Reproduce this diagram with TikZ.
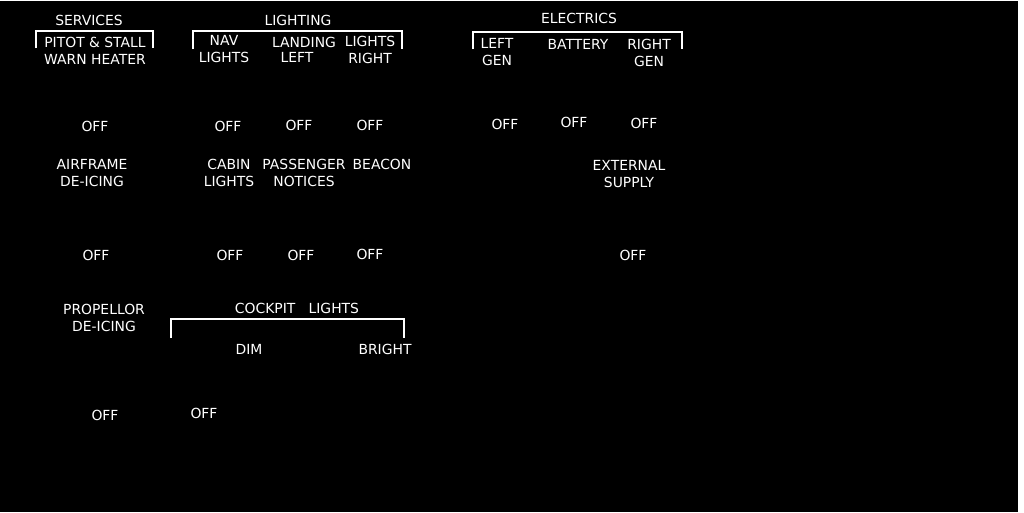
\documentclass[tikz,border=0pt]{standalone}
\usepackage{fontspec}
\setmainfont{DejaVu Sans}
\usetikzlibrary{positioning}

\begin{document}
\begin{tikzpicture}[x=1pt, y=-1pt,
    lbl/.style={text=white, font=\fontsize{13.9}{17}\selectfont, inner sep=0pt, align=center},
    offlbl/.style={lbl},
    brack/.style={draw=white, line width=2pt}
]
    \useasboundingbox (0,0) rectangle (1024,512);
    \fill[black] (0,1) rectangle (1018,512);

    % Services
    \node[lbl] (services) at (89, 20) {SERVICES};
    \draw[brack] (36, 48) -- (36, 31) -- (153, 31) -- (153, 48);
    \node[lbl] (pitot) at (95, 42) {PITOT \& STALL};
    \node[lbl] (warn) at (95, 59) {WARN HEATER};
    \node[offlbl] (pitotoff) at (95, 126) {OFF};

    \node[lbl] (airframe) at (92, 173.5) {AIRFRAME\\DE-ICING};
    \node[offlbl] (airframeoff) at (96, 255) {OFF};

    \node[lbl] (propellor) at (104, 317.5) {PROPELLOR\\DE-ICING};
    \node[offlbl] (propoff) at (105, 415) {OFF};

    % Lighting
    \node[lbl] (lighting) at (298, 20) {LIGHTING};
    \draw[brack] (193, 49) -- (193, 31) -- (402, 31) -- (402, 49);
    \node[lbl] (nav) at (224, 49.5) {NAV\\LIGHTS};
    \node[lbl] (landing) at (304, 42) {LANDING};
    \node[lbl] (landleft) at (297, 57) {LEFT};
    \node[lbl] (lightsright) at (370, 49.5) {LIGHTS\\RIGHT};
    \node[offlbl] (navoff) at (228, 126) {OFF};
    \node[offlbl] (landoff) at (299, 125) {OFF};
    \node[offlbl] (rightoff) at (370, 125) {OFF};

    \node[lbl] (cabin) at (229, 172.5) {CABIN\\LIGHTS};
    \node[lbl] (passenger) at (304, 172.5) {PASSENGER\\NOTICES};
    \node[lbl] (beacon) at (382, 164) {BEACON};
    \node[offlbl] (cabinoff) at (230, 255) {OFF};
    \node[offlbl] (passoff) at (301, 255) {OFF};
    \node[offlbl] (beaconoff) at (370, 254) {OFF};

    \node[lbl] (cockpit) at (297, 308) {COCKPIT\ \ \ LIGHTS};
    \draw[brack] (171, 338) -- (171, 319) -- (404, 319) -- (404, 338);
    \node[lbl] (dim) at (249, 349) {DIM};
    \node[lbl] (bright) at (385, 349) {BRIGHT};
    \node[offlbl] (cockpitoff) at (204, 413) {OFF};

    % Electrics
    \node[lbl] (electrics) at (579, 18) {ELECTRICS};
    \draw[brack] (473, 49) -- (473, 32) -- (682, 32) -- (682, 49);
    \node[lbl] (leftgen) at (497, 52.5) {LEFT\\GEN};
    \node[lbl] (battery) at (578, 44) {BATTERY};
    \node[lbl] (rightgen) at (649, 52.5) {RIGHT\\GEN};
    \node[offlbl] (leftgenoff) at (505, 124) {OFF};
    \node[offlbl] (batteryoff) at (574, 122) {OFF};
    \node[offlbl] (rightgenoff) at (644, 123) {OFF};

    \node[lbl] (external) at (629, 174.5) {EXTERNAL\\SUPPLY};
    \node[offlbl] (externaloff) at (633, 255) {OFF};
\end{tikzpicture}
\end{document}
